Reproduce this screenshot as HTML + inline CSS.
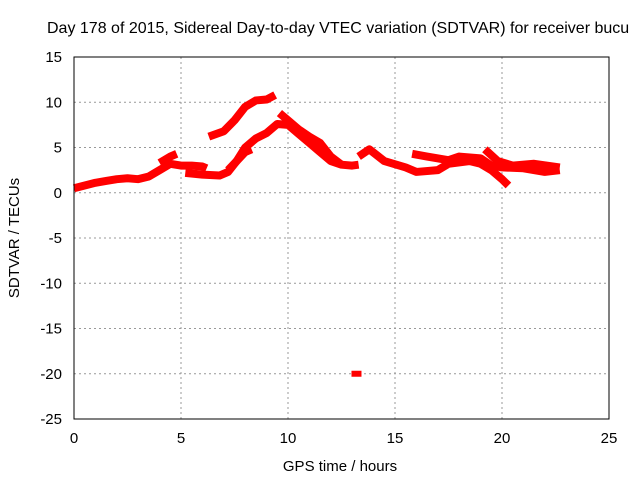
<!DOCTYPE html>
<html><head><meta charset="utf-8"><style>
body{margin:0;background:#fff;font-family:"Liberation Sans",sans-serif}
svg text{font-family:"Liberation Sans",sans-serif;font-size:15px;fill:#000}
</style></head><body>
<svg id="c" width="640" height="480">
<text x="47" y="33" style="font-size:16px">Day 178 of 2015, Sidereal Day-to-day VTEC variation (SDTVAR) for receiver bucu</text>
<text x="340" y="471" text-anchor="middle">GPS time / hours</text>
<text transform="translate(19,238) rotate(-90)" text-anchor="middle">SDTVAR / TECUs</text>
<g id="grid"></g><g id="marks"></g>
<rect x="74" y="57" width="535" height="362" fill="none" stroke="#000"/>
</svg>
<script>
const xTicks=[0,5,10,15,20,25];
const yTicks=[15,10,5,0,-5,-10,-15,-20,-25];
const s1=[[0,0.5],[0.5,0.8],[1,1.1],[1.5,1.3],[2,1.5],[2.5,1.6],[3,1.5],[3.5,1.8],[4,2.5],[4.5,3.2],[5,3.0],[5.5,3.0],[6,2.9],[6.2,2.7]];
const s1b=[[4,3.3],[4.5,4.0],[4.8,4.3]];
const s2=[[5.2,2.2],[6,2.0],[6.8,1.9],[7.2,2.3],[7.6,3.5],[8,5.0],[8.5,6.0],[9,6.6],[9.5,7.6],[10,7.5],[10.5,6.5],[11,5.5],[11.5,4.5],[12,3.5],[12.5,3.1],[13,3.0],[13.3,3.1]];
const s3=[[6.3,6.2],[7,6.8],[7.5,8],[8,9.5],[8.5,10.2],[9,10.3],[9.4,10.8]];
const s4=[[7.2,2.5],[7.6,3.5],[8,4.5],[8.3,4.8]];
const s5=[[9.6,8.8],[10,8],[10.5,7],[11,6.2],[11.5,5.5],[12,4],[12.5,3.1]];
const s6=[[13.3,4],[13.8,4.8],[14.5,3.5],[15.5,2.8],[16,2.3],[17,2.5],[17.5,3.2],[18.5,3.5],[19,3.2],[19.5,2.5],[20,1.5],[20.3,0.8]];
const s7=[[15.8,4.3],[16.5,4.0],[17.5,3.6],[18,4.0],[19,3.8],[19.5,3.0],[20,2.8],[21,2.7],[22,2.3],[22.7,2.5]];
const s8=[[19.2,4.8],[19.8,3.5],[20.5,3],[21.5,3.2],[22.7,2.8]];
const outlier=[[13.2,-20]];
const series=[s1,s1b,s2,s3,s4,s5,s6,s7,s8];
const X=v=>74+v*535/25, Y=v=>57+(15-v)*362/40;
const NS="http://www.w3.org/2000/svg";
const svg=document.getElementById('c'),grid=document.getElementById('grid'),marks=document.getElementById('marks');
function mk(t,a,p){const e=document.createElementNS(NS,t);for(const k in a)e.setAttribute(k,a[k]);p.appendChild(e);return e;}
xTicks.forEach(t=>{
 const l=mk('line',{x1:X(t),x2:X(t),y1:57,y2:419,stroke:'#999','stroke-dasharray':'2,3'},grid);
 
 
 const tx=mk('text',{x:X(t),y:443,'text-anchor':'middle'},svg);tx.textContent=t;
 
 
});
yTicks.forEach(t=>{
 const l=mk('line',{x1:74,x2:609,y1:Y(t),y2:Y(t),stroke:'#999','stroke-dasharray':'2,3'},grid);
 
 
 const tx=mk('text',{x:62,y:Y(t)+5,'text-anchor':'end'},svg);tx.textContent=t;
 
 
});
series.forEach(s=>{
 const p=mk('polyline',{points:s.map(d=>X(d[0])+','+Y(d[1])).join(' '),fill:'none',stroke:'#f00','stroke-width':8,'stroke-linejoin':'round','stroke-linecap':'butt'},marks);
 
 
});
outlier.forEach(d=>{
 const c=mk('rect',{x:X(d[0])-5,y:Y(d[1])-3,width:10,height:6,fill:'#f00'},marks);
 
 
});
</script>
</body></html>
